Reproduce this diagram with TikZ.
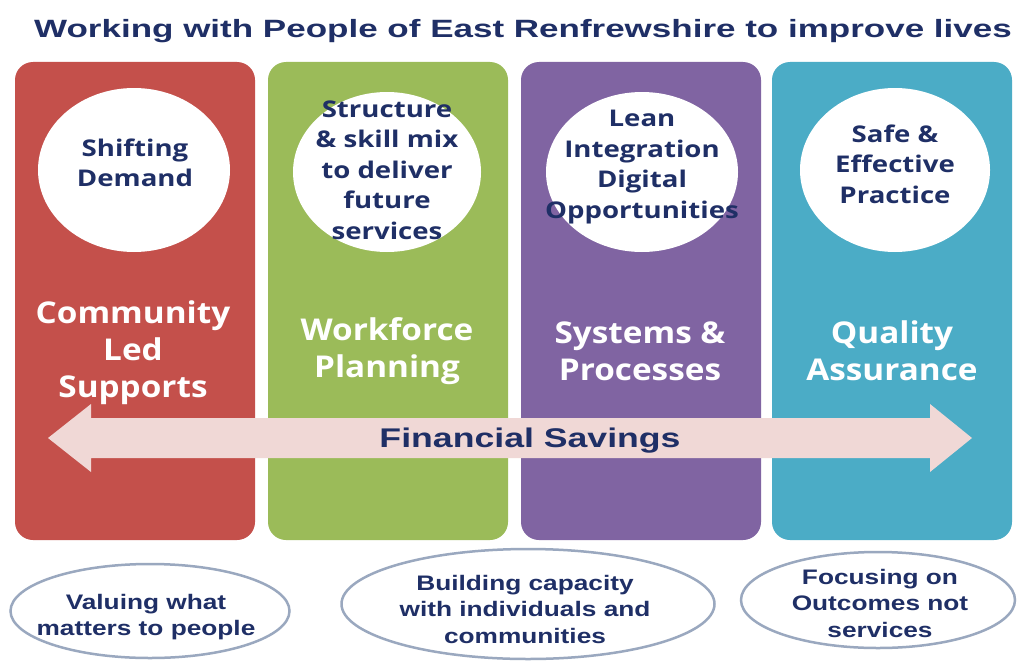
\documentclass[tikz,border=0pt]{standalone}
\usepackage{fontspec}
\setmainfont{Liberation Sans}
\newfontfamily\osans{Open Sans}
\usepackage{graphicx}
\usetikzlibrary{shapes.geometric}
\definecolor{cred}{HTML}{C4504B}
\definecolor{cgreen}{HTML}{9BBB59}
\definecolor{cpurple}{HTML}{8064A2}
\definecolor{cteal}{HTML}{4BACC6}
\definecolor{navy}{HTML}{1F2F66}
\definecolor{apink}{HTML}{F0D8D6}
\definecolor{eline}{HTML}{9AA8BF}
\newcommand{\sx}[2][1.2]{\scalebox{#1}[1]{#2}}
\begin{document}
\begin{tikzpicture}[x=1pt,y=-1pt,
  colbox/.style={rectangle, rounded corners=18pt, minimum width=240pt, minimum height=478pt, inner sep=0pt},
  circ/.style={ellipse, fill=white, inner sep=0pt},
  circtext/.style={align=center, text=navy, font=\osans\bfseries\fontsize{23}{30.5}\selectfont},
  coltext/.style={align=center, text=white, font=\osans\bfseries\fontsize{30}{37}\selectfont},
  bottom/.style={ellipse, draw=eline, line width=2.5pt, fill=white, inner sep=0pt},
  bottext/.style={align=center, text=navy, font=\bfseries\fontsize{21}{26.5}\selectfont},
]
\useasboundingbox (0,0) rectangle (1019,661);
\fill[white] (0,0) rectangle (1019,661);

\node[text=navy, font=\bfseries\fontsize{25}{30}\selectfont] (title) at (523,31) {\sx[1.4]{Working with People of East Renfrewshire to improve lives}};

\node[colbox, fill=cred] (c1) at (135,301) {};
\node[colbox, fill=cgreen] (c2) at (388,301) {};
\node[colbox, fill=cpurple] (c3) at (641,301) {};
\node[colbox, fill=cteal] (c4) at (892,301) {};

\node[circ, minimum width=192pt, minimum height=164pt] (e1) at (134,170) {};
\node[circ, minimum width=188pt, minimum height=160pt] (e2) at (387,172) {};
\node[circ, minimum width=192pt, minimum height=160pt] (e3) at (642,172) {};
\node[circ, minimum width=190pt, minimum height=164pt] (e4) at (895,170) {};

\node[circtext] (t1) at (135,163) {\sx{Shifting}\\\sx{Demand}};
\node[circtext] (t2) at (387,170) {\sx{Structure}\\\sx{\& skill mix}\\\sx{to deliver}\\\sx{future}\\\sx{services}};
\node[circtext] (t3) at (642,167) {\sx{Lean}\\\sx{Integration}\\\sx{Digital}\\\sx{Opportunities}};
\node[circtext] (t4) at (895,164) {\sx{Safe \&}\\\sx{Effective}\\\sx{Practice}};

\node[coltext] (l1) at (133,353) {\sx[1.11]{Community}\\\sx[1.11]{Led}\\\sx[1.11]{Supports}};
\node[coltext] (l2) at (387,351) {\sx[1.11]{Workforce}\\\sx[1.11]{Planning}};
\node[coltext] (l3) at (640,351) {\sx[1.11]{Systems \&}\\\sx[1.11]{Processes}};
\node[coltext] (l4) at (892,351) {\sx[1.11]{Quality}\\\sx[1.11]{Assurance}};

\fill[apink] (48,438) -- (91,404) -- (91,418) -- (930,418) -- (930,404) -- (972,438)
  -- (930,472) -- (930,458) -- (91,458) -- (91,472) -- cycle;
\node[text=navy, font=\bfseries\fontsize{27}{30}\selectfont] (fs) at (530,441) {\sx[1.32]{Financial Savings}};

\node[bottom, minimum width=279pt, minimum height=94pt] (b1) at (150,611) {};
\node[bottom, minimum width=373pt, minimum height=110pt] (b2) at (528,604) {};
\node[bottom, minimum width=274pt, minimum height=96pt] (b3) at (878,600) {};

\node[bottext] (bt1) at (146,617) {\sx[1.25]{Valuing what}\\\sx[1.25]{matters to people}};
\node[bottext] (bt2) at (525,609) {\sx[1.25]{Building capacity}\\\sx[1.25]{with individuals and}\\\sx[1.25]{communities}};
\node[bottext] (bt3) at (880,603) {\sx[1.25]{Focusing on}\\\sx[1.25]{Outcomes not}\\\sx[1.25]{services}};
\end{tikzpicture}
\end{document}
